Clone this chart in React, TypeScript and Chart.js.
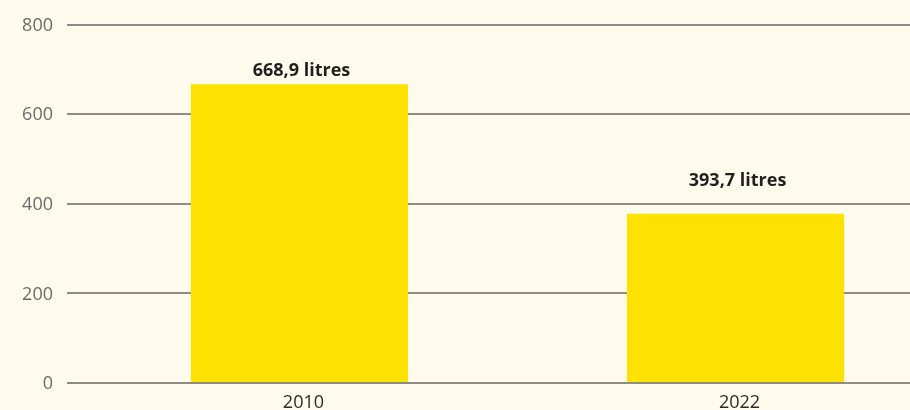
import React, { useEffect, useRef } from "react";
import { Chart, registerables } from "chart.js";

Chart.register(...registerables);

const categories = ["2010", "2022"];
const barValues = [667, 378];
const valueLabels = ["668,9 litres", "393,7 litres"];
const yTicks = [0, 200, 400, 600, 800];

const labelGaps = [13, 33];

export default function App() {
  const ref = useRef<HTMLCanvasElement | null>(null);

  useEffect(() => {
    const canvas = ref.current;
    if (!canvas) return;

    const labelPlugin = {
      id: "valueLabels",
      afterDatasetsDraw(chart: any) {
        const ctx = chart.ctx;
        const meta = chart.getDatasetMeta(0);
        ctx.save();
        ctx.font = "700 18px 'Open Sans'";
        ctx.fillStyle = "#231f20";
        ctx.textAlign = "center";
        ctx.textBaseline = "middle";
        meta.data.forEach((bar: any, i: number) => {
          ctx.fillText(valueLabels[i], bar.x + 2, bar.y - labelGaps[i]);
        });
        ctx.restore();
      },
    };

    const chart = new Chart(canvas, {
      type: "bar",
      data: {
        datasets: [
          {
            data: barValues.map((v, i) => ({ x: i, y: v })),
            backgroundColor: "#fde100",
            borderWidth: 0,
            categoryPercentage: 1,
            barPercentage: 0.498,
          },
        ],
      },
      options: {
        animation: false,
        responsive: false,
        maintainAspectRatio: false,
        layout: { padding: { top: 23, right: 0, left: 0, bottom: 0 } },
        plugins: {
          legend: { display: false },
          tooltip: { enabled: false },
        },
        scales: {
          x: {
            type: "linear",
            offset: false,
            min: -0.533,
            max: 1.4,
            grid: { display: false, drawTicks: false, offset: false },
            border: { display: false },
            afterBuildTicks: (scale: any) => {
              scale.ticks = categories.map((_, i) => ({ value: i }));
            },
            afterFit: (scale: any) => {
              scale.height = 27;
            },
            ticks: {
              padding: 9,
              labelOffset: 4,
              color: "#2b2b2b",
              font: { family: "'Open Sans'", size: 18 },
              callback: (v: any) => categories[Math.round(Number(v))] ?? "",
            },
          },
          y: {
            min: 0,
            max: 800,
            afterBuildTicks: (scale: any) => {
              scale.ticks = yTicks.map((v) => ({ value: v }));
            },
            afterFit: (scale: any) => {
              scale.width = 67;
            },
            grid: { color: "#8f8c85", lineWidth: 2, drawTicks: false },
            border: { display: false },
            ticks: {
              padding: 14,
              labelOffset: 1,
              color: "#6b6b6b",
              font: { family: "'Open Sans'", size: 18 },
            },
          },
        },
      },
      plugins: [labelPlugin],
    });

    return () => chart.destroy();
  }, []);

  return (
    <div
      style={{
        position: "fixed",
        left: 0,
        top: 0,
        width: 910,
        height: 410,
        background: "#fefbec",
      }}
    >
      <canvas ref={ref} width={910} height={410} style={{ display: "block" }} />
    </div>
  );
}
